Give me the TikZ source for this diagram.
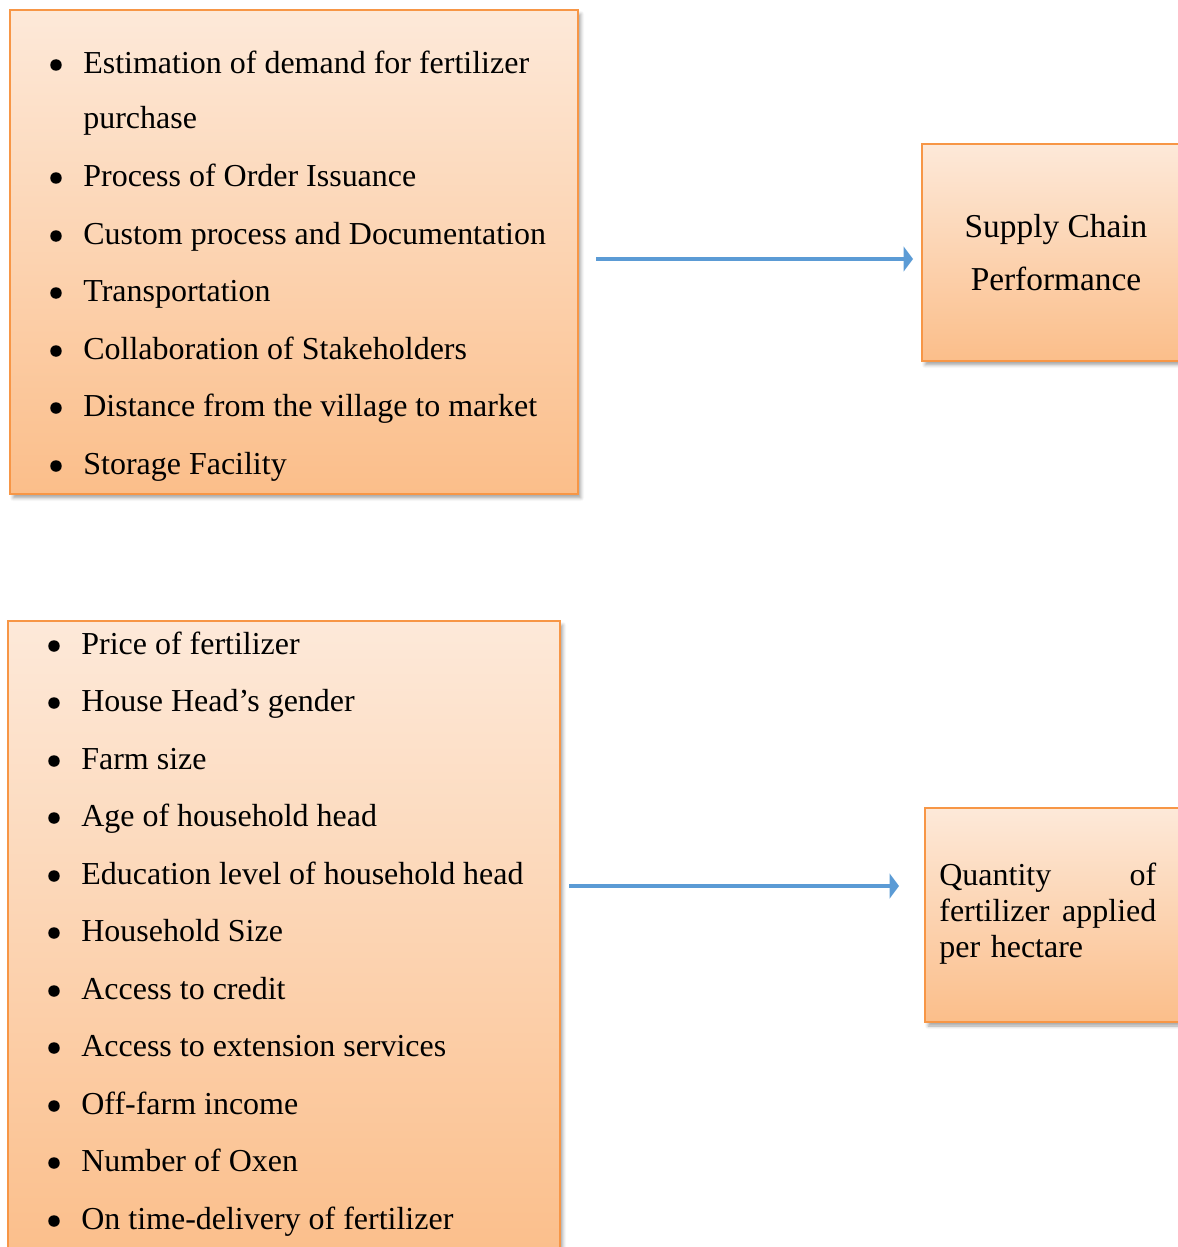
\documentclass[tikz,border=0pt]{standalone}
\usepackage{fontspec}
\setmainfont{Liberation Serif}
\usetikzlibrary{arrows.meta,shadows.blur}

\definecolor{boxtop}{RGB}{253,233,217}
\definecolor{boxbottom}{RGB}{251,190,138}
\definecolor{boxline}{RGB}{247,150,70}
\definecolor{arrowblue}{RGB}{91,155,213}

\tikzset{
  factorbox/.style={draw=boxline, line width=1pt, top color=boxtop,
    bottom color=boxbottom, inner sep=0pt,
    blur shadow={shadow xshift=0.06cm, shadow yshift=-0.08cm, shadow opacity=35}},
  itemtext/.style={anchor=base west, inner sep=0pt, font=\fontsize{18.2}{20}\selectfont},
  flow/.style={arrowblue, line width=2.2pt, -{Triangle[length=0.19cm,width=0.5cm]}}
}

\begin{document}
\begin{tikzpicture}[x=0.02cm, y=-0.02cm]
    \useasboundingbox (0,0) rectangle (1177,1247);

    % Boxes
    \node[factorbox, minimum width=11.36cm, minimum height=9.68cm] (chain) at (294,252) {};
    \node[factorbox, minimum width=5.36cm, minimum height=4.34cm, align=center,
          font=\fontsize{19}{30.6}\selectfont] (perf) at (1056,252.5) {Supply Chain\\Performance};
    \node[factorbox, minimum width=11.04cm, minimum height=12.88cm] (farm) at (284,943) {};
    \node[factorbox, minimum width=5.3cm, minimum height=4.28cm] (qty) at (1057.5,915) {};

    % Supply chain factors
    \foreach \y/\txt [count=\i] in {73/{Estimation of demand for fertilizer},
        186/{Process of Order Issuance}, 244/{Custom process and Documentation},
        301/{Transportation}, 359/{Collaboration of Stakeholders},
        416/{Distance from the village to market}, 474/{Storage Facility}}{
      \fill (56,{\y-8}) circle[radius=0.115cm];
      \node[itemtext] (chain\i) at (83,\y) {\txt};
    }
    \node[itemtext] (chain1b) at (83,129) {purchase};

    % Household factors
    \foreach \y/\txt [count=\i] in {654/{Price of fertilizer}, 711/{House Head’s gender},
        769/{Farm size}, 826/{Age of household head},
        884/{Education level of household head}, 941/{Household Size},
        999/{Access to credit}, 1056/{Access to extension services},
        1114/{Off-farm income}, 1171/{Number of Oxen},
        1229/{On time-delivery of fertilizer}}{
      \fill (54,{\y-8}) circle[radius=0.115cm];
      \node[itemtext] (farm\i) at (81,\y) {\txt};
    }

    % Outcome text
    \node[anchor=north west, inner sep=0pt, text width=4.34cm, align=left,
          font=\fontsize{18.2}{20.4}\selectfont] (qtytext) at (939,863)
        {Quantity\hfill of\\fertilizer\hfill applied\\per hectare};

    % Arrows
    \coordinate (a1s) at (596,259);
    \coordinate (a1e) at (913,259);
    \coordinate (a2s) at (569,886);
    \coordinate (a2e) at (899,886);
    \draw[flow] (a1s) -- (a1e);
    \draw[flow] (a2s) -- (a2e);
\end{tikzpicture}
\end{document}
